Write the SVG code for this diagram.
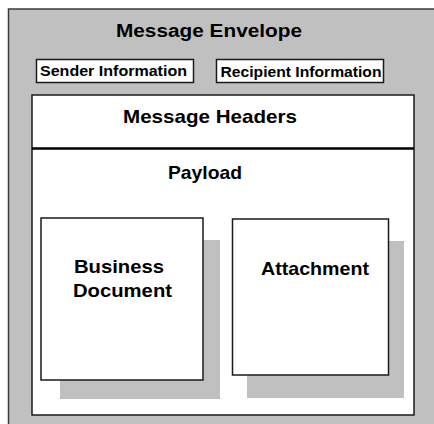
<svg xmlns="http://www.w3.org/2000/svg" width="434" height="424" viewBox="0 0 434 424">
<style>
.t{font-family:"Liberation Sans",Arial,sans-serif;font-weight:bold;fill:#000;text-anchor:middle}
.box{fill:#fff;stroke:#1a1a1a;stroke-width:1.5}
.sh{fill:#c0c0c0}
</style>
<rect width="434" height="424" fill="#fff"/>
<g id="envelope">
<rect x="8.5" y="9" width="440" height="430" fill="#c0c0c0" stroke="#3a3a3a" stroke-width="1.5"/>
<text class="t" x="209" y="37" font-size="18" textLength="186" lengthAdjust="spacingAndGlyphs">Message Envelope</text>
</g>
<g id="sender">
<rect class="box" x="36.5" y="59.5" width="157" height="23"/>
<text class="t" x="113.5" y="76" font-size="15" textLength="147" lengthAdjust="spacingAndGlyphs">Sender Information</text>
</g>
<g id="recipient">
<rect class="box" x="216.5" y="59.5" width="167" height="23"/>
<text class="t" x="301" y="76.5" font-size="15" textLength="161" lengthAdjust="spacingAndGlyphs">Recipient Information</text>
</g>
<g id="message">
<rect class="box" x="32" y="95" width="382" height="320"/>
<line x1="32" y1="148.5" x2="414" y2="148.5" stroke="#000" stroke-width="2.5"/>
</g>
<g id="headers">
<text class="t" x="210" y="123" font-size="19" textLength="174" lengthAdjust="spacingAndGlyphs">Message Headers</text>
</g>
<g id="payload">
<text class="t" x="205" y="179" font-size="19" textLength="74" lengthAdjust="spacingAndGlyphs">Payload</text>
</g>
<g id="business-document">
<rect class="sh" x="60" y="240" width="160" height="159"/>
<rect class="box" x="41" y="218" width="162" height="162"/>
<text class="t" x="119" y="273" font-size="19" textLength="90" lengthAdjust="spacingAndGlyphs">Business</text>
<text class="t" x="122.5" y="297" font-size="19" textLength="99" lengthAdjust="spacingAndGlyphs">Document</text>
</g>
<g id="attachment">
<rect class="sh" x="247" y="241" width="157" height="157"/>
<rect class="box" x="232.5" y="219" width="156" height="156"/>
<text class="t" x="315" y="275" font-size="19" textLength="108" lengthAdjust="spacingAndGlyphs">Attachment</text>
</g>
<g id="connectors"/>
</svg>
